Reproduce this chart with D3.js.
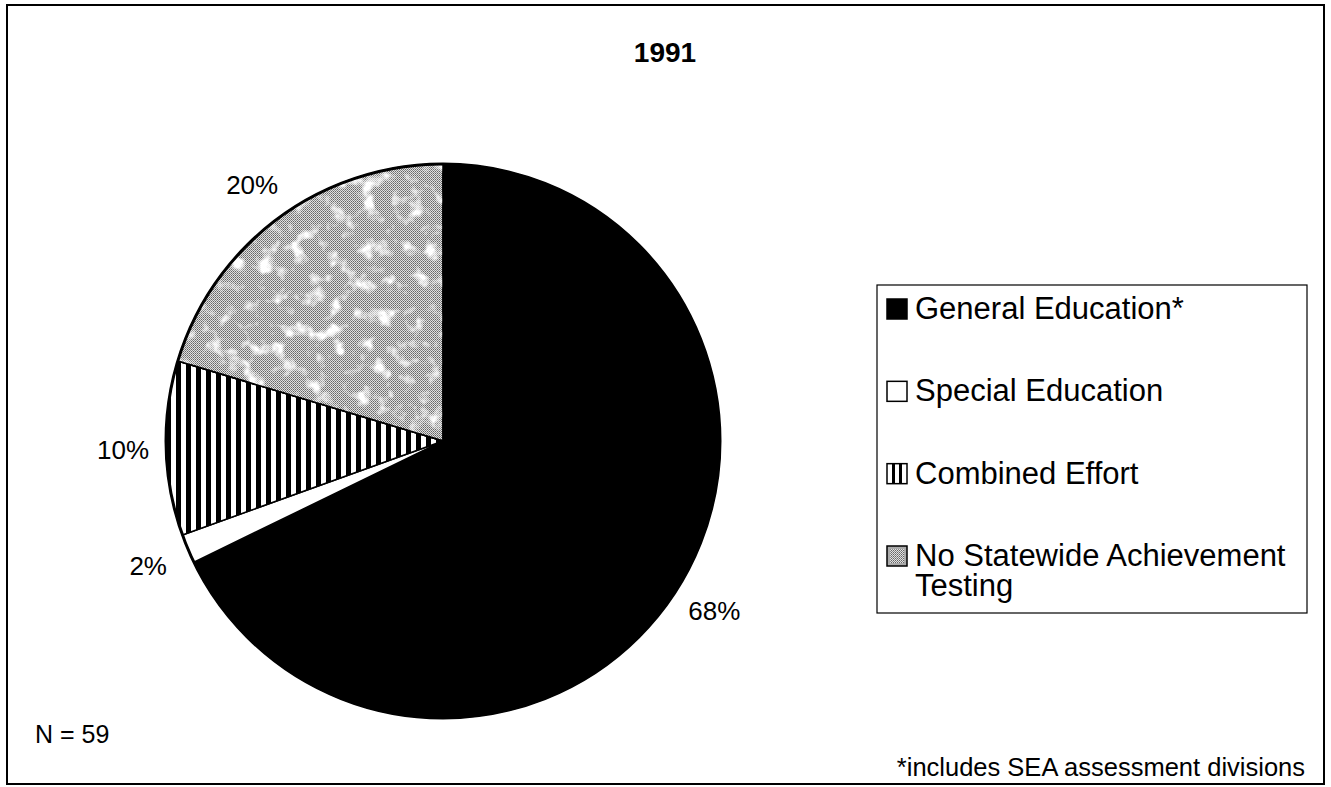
<!DOCTYPE html>
<html>
<head>
<meta charset="utf-8">
<script src="https://cdn.jsdelivr.net/npm/d3@7"></script>
<style>
  body { margin: 0; background: #fff; }
  text { font-family: "Liberation Sans", Arial, Helvetica, sans-serif; fill: #000; }
</style>
</head>
<body>
<div id="chart"></div>
<script>
// data (N = 59 states)
const categories = ["General Education*", "Special Education", "Combined Effort", "No Statewide Achievement Testing"];
const counts = [40, 1, 6, 12];
const pctLabels = ["68%", "2%", "10%", "20%"];
const legendLines = [["General Education*"], ["Special Education"], ["Combined Effort"], ["No Statewide Achievement", "Testing"]];
const title = "1991";
const nNote = "N = 59";
const footNote = "*includes SEA assessment divisions";

const width = 1331,
      height = 787;

const cx = 443, cy = 441, radius = 277;

let svg = d3.select("#chart")
    .append("svg")
      .attr("width", width)
      .attr("height", height);

let defs = svg.append("defs");

// vertical stripes for "Combined Effort"
let stripes = defs.append("pattern")
    .attr("id", "stripes")
    .attr("patternUnits", "userSpaceOnUse")
    .attr("width", 10).attr("height", 10);
stripes.append("rect").attr("width", 10).attr("height", 10).attr("fill", "#fff");
stripes.append("rect").attr("x", 3).attr("width", 5).attr("height", 10).attr("fill", "#000");

// fine dither for the grey slice
let dither = defs.append("pattern")
    .attr("id", "dither")
    .attr("patternUnits", "userSpaceOnUse")
    .attr("width", 2).attr("height", 2);
dither.append("rect").attr("width", 2).attr("height", 2).attr("fill", "#e0e0e0");
dither.append("rect").attr("width", 1).attr("height", 1).attr("fill", "#666");
dither.append("rect").attr("x", 1).attr("y", 1).attr("width", 1).attr("height", 1).attr("fill", "#888");

// white mottling blobs
let blobs = defs.append("filter")
    .attr("id", "blobs")
    .attr("x", 0).attr("y", 0).attr("width", 1).attr("height", 1);
blobs.append("feTurbulence")
    .attr("type", "fractalNoise")
    .attr("baseFrequency", 0.06)
    .attr("numOctaves", 3)
    .attr("seed", 7);
blobs.append("feColorMatrix")
    .attr("type", "matrix")
    .attr("values", "0 0 0 0 1  0 0 0 0 1  0 0 0 0 1  4 0 0 0 -2.05");

// frame
svg.append("rect")
    .attr("x", 7).attr("y", 5)
    .attr("width", 1317).attr("height", 779)
    .attr("fill", "none")
    .attr("stroke", "#000")
    .attr("stroke-width", 2);

// title
svg.append("text")
    .attr("x", 665).attr("y", 62)
    .attr("text-anchor", "middle")
    .style("font-size", "28px")
    .style("font-weight", "bold")
    .text(title);

// pie
const fills = ["#000", "#fff", "url(#stripes)", "url(#dither)"];

let pie = d3.pie().sort(null).value(d => d);
let arcs = pie(counts);

let arc = d3.arc().innerRadius(0).outerRadius(radius);
let labelArc = d3.arc().innerRadius(320).outerRadius(320);

let g = svg.append("g").attr("transform", "translate(" + cx + "," + cy + ")");

g.selectAll("path.slice")
  .data(arcs)
  .enter()
  .append("path")
    .attr("class", "slice")
    .attr("d", arc)
    .attr("fill", (d, i) => fills[i])
    .attr("stroke", "#000")
    .attr("stroke-width", 1.5);

// mottled overlay for the grey slice
defs.append("clipPath").attr("id", "greyClip")
  .append("path").attr("d", arc(arcs[3]));
g.append("rect")
    .attr("x", -radius).attr("y", -radius)
    .attr("width", radius * 2).attr("height", radius * 2)
    .attr("clip-path", "url(#greyClip)")
    .attr("filter", "url(#blobs)");
g.append("path")
    .attr("d", arc(arcs[3]))
    .attr("fill", "none")
    .attr("stroke", "#000")
    .attr("stroke-width", 1.5);

// thicker outline
g.append("circle")
    .attr("r", radius)
    .attr("fill", "none")
    .attr("stroke", "#000")
    .attr("stroke-width", 3);

// percent labels
g.selectAll("text.pct")
  .data(arcs)
  .enter()
  .append("text")
    .attr("class", "pct")
    .attr("transform", d => "translate(" + labelArc.centroid(d) + ")")
    .attr("text-anchor", "middle")
    .attr("dy", "0.36em")
    .style("font-size", "26px")
    .text((d, i) => pctLabels[i]);

// legend
svg.append("rect")
    .attr("x", 877).attr("y", 285)
    .attr("width", 430).attr("height", 328)
    .attr("fill", "#fff")
    .attr("stroke", "#000")
    .attr("stroke-width", 1.2);

let rowY = d3.scalePoint().domain(categories).range([319, 566]);

let items = svg.selectAll("g.legend")
  .data(categories)
  .enter()
  .append("g")
    .attr("class", "legend")
    .attr("transform", d => "translate(887," + rowY(d) + ")");

items.append("rect")
    .attr("x", 0).attr("y", -20)
    .attr("width", 20).attr("height", 20)
    .attr("fill", (d, i) => i == 3 ? "#aaa" : (i == 2 ? "#fff" : fills[i]))
    .attr("stroke", "#000")
    .attr("stroke-width", 1.5);

// two bars inside the combined-effort marker
items.filter((d, i) => i == 2)
  .selectAll("rect.bar")
  .data([5, 12])
  .enter()
  .append("rect")
    .attr("class", "bar")
    .attr("x", d => d).attr("y", -20)
    .attr("width", 3).attr("height", 20)
    .attr("fill", "#000");

items.filter((d, i) => i == 3)
  .append("rect")
    .attr("x", 3).attr("y", -17)
    .attr("width", 14).attr("height", 14)
    .attr("fill", "url(#dither)");

let labels = items.append("text")
    .attr("x", 28)
    .style("font-size", "31px");

labels.selectAll("tspan")
  .data((d, i) => legendLines[i])
  .enter()
  .append("tspan")
    .attr("x", 28)
    .attr("dy", (d, j) => j == 0 ? 0 : 30)
    .text(d => d);

// notes
svg.append("text")
    .attr("x", 35).attr("y", 743)
    .style("font-size", "25px")
    .text(nNote);

svg.append("text")
    .attr("x", 1305).attr("y", 776)
    .attr("text-anchor", "end")
    .style("font-size", "25.5px")
    .text(footNote);
</script>
</body>
</html>
